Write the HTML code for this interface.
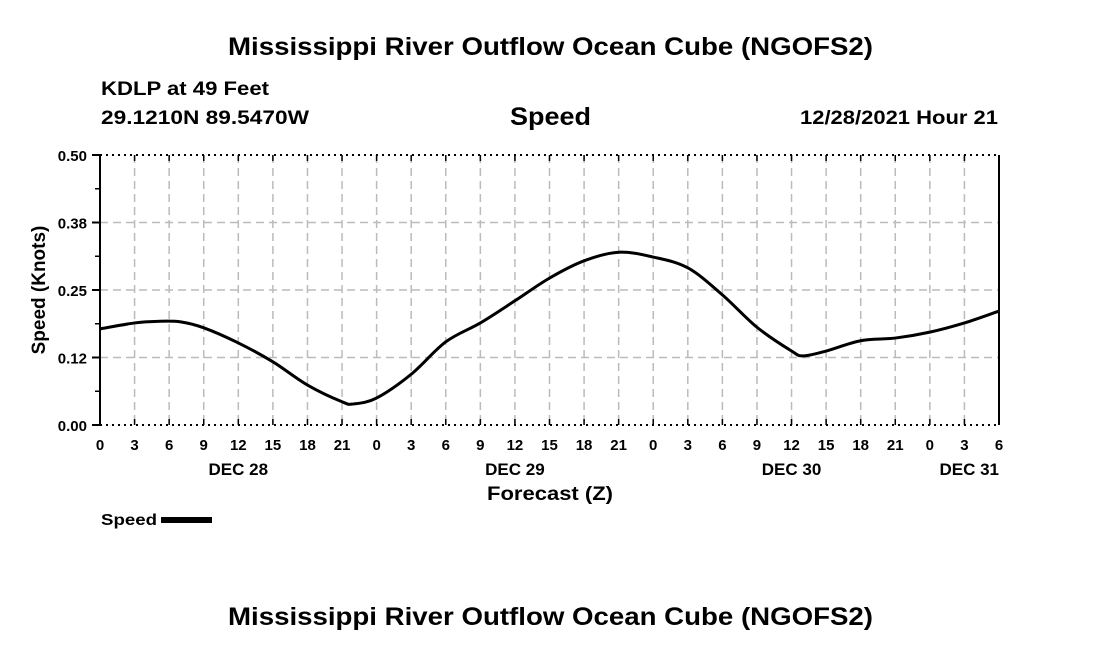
<!DOCTYPE html>
<html><head><meta charset="utf-8"><style>
body{margin:0;background:#fff;width:1100px;height:650px;overflow:hidden}
svg text{font-family:"Liberation Sans",Arial,sans-serif;font-weight:bold;fill:#000}
</style></head><body>
<svg id="c" width="1100" height="650">
<text x="228" y="55" font-size="25" textLength="645" lengthAdjust="spacingAndGlyphs">Mississippi River Outflow Ocean Cube (NGOFS2)</text>
<text x="101" y="95" font-size="19" textLength="168" lengthAdjust="spacingAndGlyphs">KDLP at 49 Feet</text>
<text x="101" y="124" font-size="19" textLength="208" lengthAdjust="spacingAndGlyphs">29.1210N  89.5470W</text>
<text x="510" y="125" font-size="25" textLength="81" lengthAdjust="spacingAndGlyphs">Speed</text>
<text x="800" y="124" font-size="19" textLength="198" lengthAdjust="spacingAndGlyphs">12/28/2021 Hour 21</text>
<g id="grid"></g><g id="axes"></g>
<path id="line" fill="none" stroke="#000" stroke-width="3"/>
<text x="-290" y="45" transform="rotate(-90)" font-size="19" text-anchor="middle">Speed (Knots)</text>
<text x="487" y="500" font-size="19" textLength="126" lengthAdjust="spacingAndGlyphs">Forecast (Z)</text>
<text x="101" y="525" font-size="16" textLength="56" lengthAdjust="spacingAndGlyphs">Speed</text>
<rect x="161" y="517" width="51" height="6" fill="#000"/>
<text x="228" y="625" font-size="25" textLength="645" lengthAdjust="spacingAndGlyphs">Mississippi River Outflow Ocean Cube (NGOFS2)</text>
</svg>
<script>
const hours=[0,3,5,7,9,12,15,18,21,22,24,27,30,33,36,39,42,45,48,51,54,57,60,61,63,66,69,72,75,78];
const speeds=[0.178,0.189,0.192,0.191,0.18,0.152,0.117,0.074,0.043,0.039,0.05,0.094,0.154,0.189,0.23,0.272,0.304,0.32,0.311,0.291,0.241,0.181,0.137,0.128,0.137,0.156,0.161,0.172,0.189,0.211];
const yTicks=[0,0.125,0.25,0.375,0.5];
const yTickLabels=["0.00","0.12","0.25","0.38","0.50"];
const dayLabels=[{h:12,t:"DEC 28"},{h:36,t:"DEC 29"},{h:60,t:"DEC 30"},{h:78,t:"DEC 31"}];
const X0=100,X1=999,Y0=425,Y1=155,HMAX=78,VMAX=0.5;
const xs=h=>X0+(X1-X0)*h/HMAX, ys=v=>Y0-(Y0-Y1)*v/VMAX;
const NS="http://www.w3.org/2000/svg";
function mk(p,tag,a){const e=document.createElementNS(NS,tag);for(const k in a)e.setAttribute(k,a[k]);p.appendChild(e);return e;}
const g=document.getElementById('grid'),ax=document.getElementById('axes');
for(let h=3;h<HMAX;h+=3){const l=mk(g,'line',{x1:xs(h),x2:xs(h),y1:Y1,y2:Y0,stroke:'#bbb','stroke-width':1.5,'stroke-dasharray':'8,5'});

}
yTicks.slice(1,-1).forEach(v=>{const l=mk(g,'line',{x1:X0,x2:X1,y1:ys(v),y2:ys(v),stroke:'#bbb','stroke-width':1.5,'stroke-dasharray':'8,5'});

});
mk(ax,'line',{x1:X0,x2:X0,y1:Y1,y2:Y0,stroke:'#000','stroke-width':2});
mk(ax,'line',{x1:X1,x2:X1,y1:Y1,y2:Y0,stroke:'#000','stroke-width':2});
mk(ax,'line',{x1:X0,x2:X1,y1:Y1,y2:Y1,stroke:'#000','stroke-width':2,'stroke-dasharray':'2,4'});
mk(ax,'line',{x1:X0,x2:X1,y1:Y0,y2:Y0,stroke:'#000','stroke-width':2,'stroke-dasharray':'2,4'});
for(let v=0;v<=0.5001;v+=0.0625){mk(ax,'line',{x1:X0-5,x2:X0,y1:ys(v),y2:ys(v),stroke:'#000','stroke-width':1.5});}
yTicks.forEach((v,i)=>{mk(ax,'line',{x1:X0-8,x2:X0,y1:ys(v),y2:ys(v),stroke:'#000','stroke-width':2});
const t=mk(ax,'text',{x:X0-13,y:ys(v)+6,'font-size':15,'text-anchor':'end'});t.textContent=yTickLabels[i];

});
for(let h=0;h<=HMAX;h+=3){mk(ax,'line',{x1:xs(h),x2:xs(h),y1:Y0,y2:Y0-6,stroke:'#000','stroke-width':1.5});
mk(ax,'line',{x1:xs(h),x2:xs(h),y1:Y1,y2:Y1+6,stroke:'#000','stroke-width':1.5});
const t=mk(ax,'text',{x:xs(h),y:450,'font-size':15,'text-anchor':'middle'});t.textContent=String(h%24);

}
dayLabels.forEach(d=>{const t=mk(ax,'text',{x:xs(d.h),y:475,'font-size':17,'text-anchor':d.h==HMAX?'end':'middle'});if(d.h==HMAX)t.setAttribute('x',X1);t.textContent=d.t;

});
const P=hours.map((h,i)=>[xs(h),ys(speeds[i])]);
let d='M'+P[0][0]+','+P[0][1];
for(let i=0;i<P.length-1;i++){const p0=P[Math.max(0,i-1)],p1=P[i],p2=P[i+1],p3=P[Math.min(P.length-1,i+2)];
d+=` C${p1[0]+(p2[0]-p0[0])/6},${p1[1]+(p2[1]-p0[1])/6} ${p2[0]-(p3[0]-p1[0])/6},${p2[1]-(p3[1]-p1[1])/6} ${p2[0]},${p2[1]}`;}
document.getElementById('line').setAttribute('d',d);
</script>
</body></html>
